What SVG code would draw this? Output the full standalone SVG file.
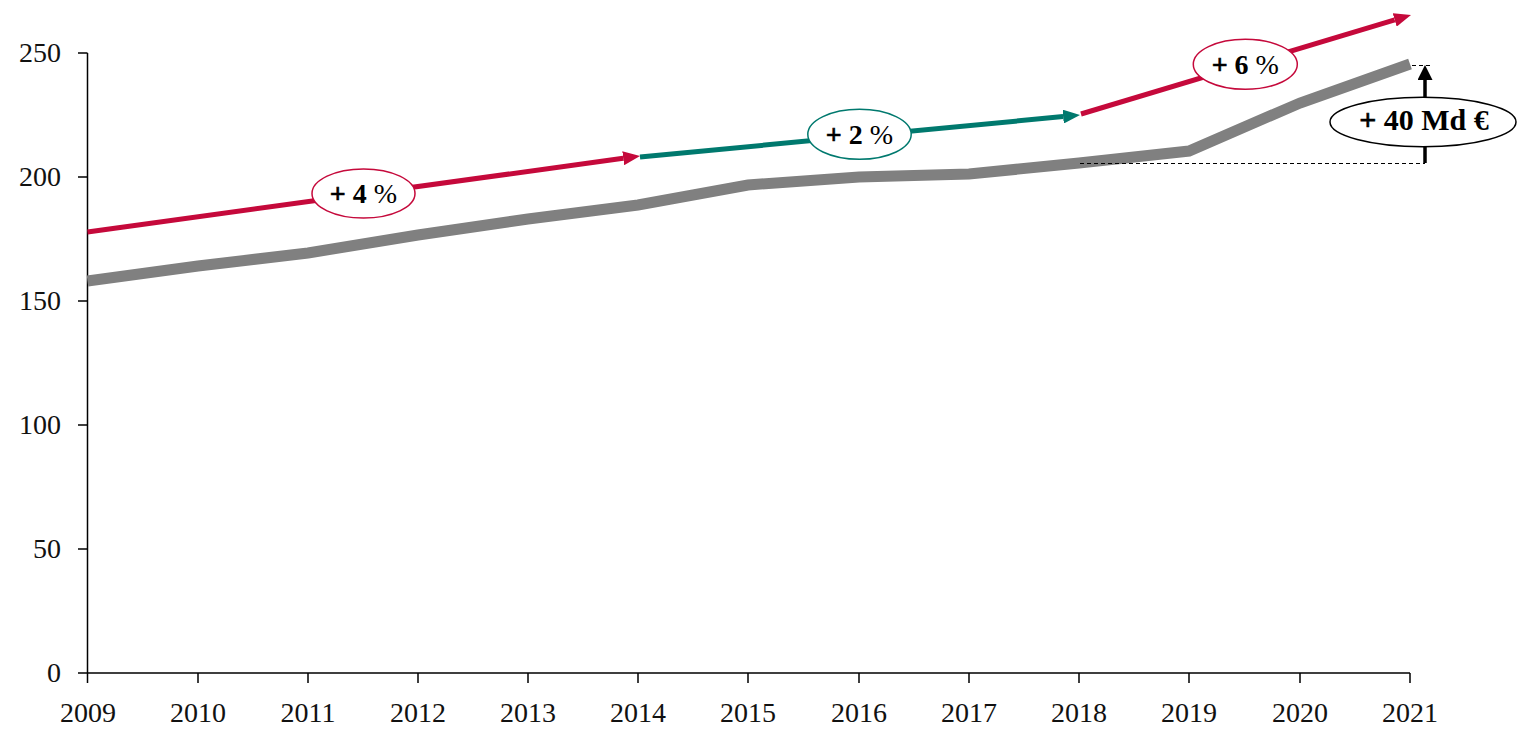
<svg xmlns="http://www.w3.org/2000/svg" width="1517" height="736" viewBox="0 0 1517 736">
<style>
.ax{stroke:#000;stroke-width:1.5;fill:none}
.lbl{font-family:"Liberation Serif","Times New Roman",serif;font-size:28px;fill:#111}
.yl{text-anchor:end}
.xl{text-anchor:middle}
.tag{font-family:"Liberation Serif","Times New Roman",serif;font-size:28px;font-weight:bold;fill:#000;text-anchor:middle}
.pls{stroke:#000;stroke-width:0.6}
.pct{font-weight:normal}
.red{stroke:#C5093B;stroke-width:5;fill:none}
.teal{stroke:#00796E;stroke-width:5;fill:none}
.dash{stroke:#000;stroke-width:1;stroke-dasharray:4 3;fill:none}
</style>
<defs>
<marker id="hr" markerUnits="userSpaceOnUse" markerWidth="18" markerHeight="14" refX="0" refY="7" orient="auto"><path d="M0,0 L17,7 L0,14 Z" fill="#C5093B"/></marker>
<marker id="ht" markerUnits="userSpaceOnUse" markerWidth="18" markerHeight="14" refX="0" refY="7" orient="auto"><path d="M0,0 L17,7 L0,14 Z" fill="#00796E"/></marker>
<marker id="hb" markerUnits="userSpaceOnUse" markerWidth="16" markerHeight="15" refX="0" refY="7.5" orient="auto"><path d="M0,0 L15,7.5 L0,15 Z" fill="#000"/></marker>
</defs>
<rect width="1517" height="736" fill="#fff"/>
<g id="axes">
<path class="ax" d="M87.5,53 V673 M78,673 H1410 M78,53 H87.5 M78,177 H87.5 M78,301 H87.5 M78,425 H87.5 M78,549 H87.5"/>
<path class="ax" d="M87.5,673 V683 M198,673 V683 M308,673 V683 M418,673 V683 M528,673 V683 M638,673 V683 M748,673 V683 M859,673 V683 M969,673 V683 M1079,673 V683 M1189,673 V683 M1300,673 V683 M1410,673 V683"/>
<g class="lbl yl">
<text x="61" y="62">250</text>
<text x="61" y="186">200</text>
<text x="61" y="310">150</text>
<text x="61" y="434">100</text>
<text x="61" y="558">50</text>
<text x="61" y="682">0</text>
</g>
<g class="lbl xl">
<text x="88" y="722">2009</text>
<text x="198" y="722">2010</text>
<text x="308" y="722">2011</text>
<text x="418" y="722">2012</text>
<text x="528" y="722">2013</text>
<text x="638" y="722">2014</text>
<text x="748" y="722">2015</text>
<text x="859" y="722">2016</text>
<text x="969" y="722">2017</text>
<text x="1079" y="722">2018</text>
<text x="1189" y="722">2019</text>
<text x="1300" y="722">2020</text>
<text x="1410" y="722">2021</text>
</g>
</g>
<g id="series">
<polyline points="87.5,281 198,266 308,253 418,235 528,219 638,205 748,185 859,177 969,174 1079,163 1189,151 1300,103 1410,64" fill="none" stroke="#808080" stroke-width="11" stroke-linejoin="miter"/>
</g>
<g id="connectors">
<line class="dash" x1="1080" y1="163.5" x2="1425" y2="163.5"/>
<line class="dash" x1="1412" y1="65.5" x2="1432" y2="65.5"/>
<line class="red" x1="87.5" y1="232" x2="623.2" y2="158.3" marker-end="url(#hr)"/>
<line class="teal" x1="640" y1="157" x2="1063.1" y2="116.6" marker-end="url(#ht)"/>
<line class="red" x1="1081" y1="114" x2="1394.7" y2="19.9" marker-end="url(#hr)"/>
<line x1="1425" y1="163" x2="1425" y2="80" stroke="#000" stroke-width="3.5" marker-end="url(#hb)"/>
</g>
<g id="tag4">
<ellipse cx="363.5" cy="193.5" rx="51.5" ry="24.5" fill="#fff" stroke="#C5093B" stroke-width="1.5"/>
<text class="tag" x="363.5" y="203"><tspan class="pls">+</tspan> 4 <tspan class="pct">%</tspan></text>
</g>
<g id="tag2">
<ellipse cx="859.5" cy="134.3" rx="51.7" ry="25" fill="#fff" stroke="#00796E" stroke-width="1.5"/>
<text class="tag" x="859.5" y="143.5"><tspan class="pls">+</tspan> 2 <tspan class="pct">%</tspan></text>
</g>
<g id="tag6">
<ellipse cx="1245.3" cy="64.3" rx="52" ry="25" fill="#fff" stroke="#C5093B" stroke-width="1.5"/>
<text class="tag" x="1245.3" y="73.5"><tspan class="pls">+</tspan> 6 <tspan class="pct">%</tspan></text>
</g>
<g id="tag40">
<ellipse cx="1423" cy="122" rx="93" ry="24.7" fill="#fff" stroke="#000" stroke-width="1.5"/>
<text class="tag" x="1424" y="130" style="font-size:30px"><tspan class="pls">+</tspan> 40 Md €</text>
</g>
</svg>
